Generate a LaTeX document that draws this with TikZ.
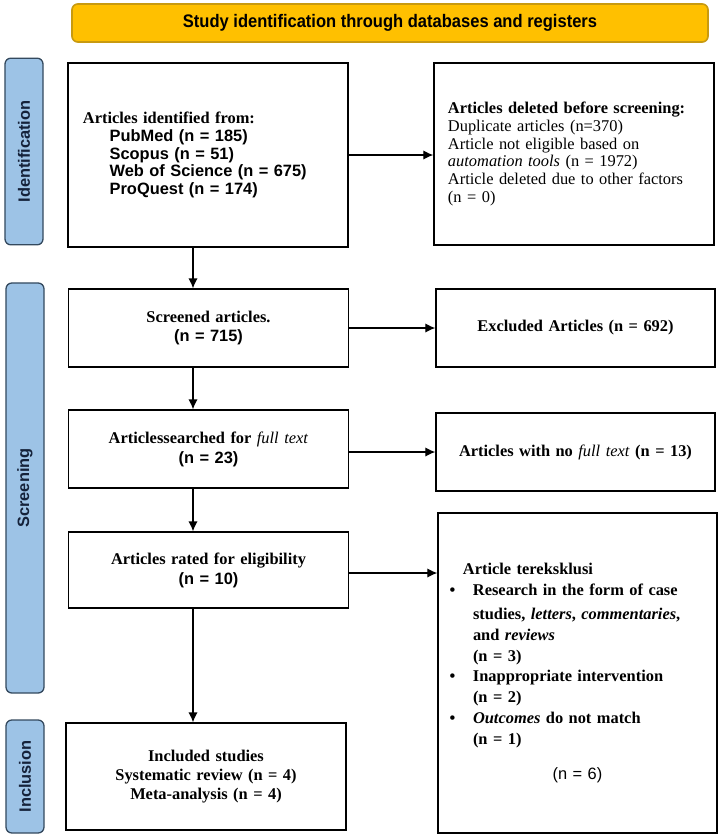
\documentclass[tikz,border=0pt]{standalone}
\usepackage{fontspec}
\setmainfont{Liberation Serif}
\setsansfont{Liberation Sans}
\newfontfamily\narrowsf[FakeStretch=0.91]{Liberation Sans}
\usetikzlibrary{arrows.meta}

\definecolor{bannerfill}{HTML}{FFC000}
\definecolor{bannerline}{HTML}{C89A10}
\definecolor{phasefill}{HTML}{9DC3E6}
\definecolor{phaseline}{HTML}{34495E}
\definecolor{phasetext}{HTML}{15223A}

\newcommand{\bulletpad}{\makebox[0.9cm][l]{\hspace{0.2cm}\textbullet}}
\newcommand{\hangpad}{\hspace*{0.9cm}}

\begin{document}
\begin{tikzpicture}[x=0.03cm,y=-0.03cm,
    box/.style={draw,line width=1.1pt,inner ysep=0pt,
        font=\fontsize{14}{15.1}\selectfont},
    midbox/.style={box,text width=7.8cm,inner xsep=0.3cm,align=center,
        minimum height=2.34cm,font=\fontsize{14}{17}\selectfont\bfseries},
    phase/.style={draw=phaseline,fill=phasefill,line width=1.1pt,rounded corners=5pt,
        rotate=90,minimum height=1.14cm,text=phasetext,
        font=\fontsize{14}{16}\selectfont\sffamily\bfseries},
    arr/.style={line width=1.1pt,-{Latex[length=0.3cm,width=0.28cm]}}]
    \useasboundingbox (0,0) rectangle (720,836);

    % banner and phases
    \node[draw=bannerline,fill=bannerfill,line width=1.4pt,rounded corners=5pt,
        minimum width=19.08cm,minimum height=1.14cm,
        font=\fontsize{15.5}{18}\selectfont\narrowsf\bfseries] (title) at (390,23)
        {Study identification through databases and registers};
    \node[phase,minimum width=5.6cm] (idphase) at (24,151.5) {Identification};
    \node[phase,minimum width=12.3cm] (scphase) at (25,488) {Screening};
    \node[phase,minimum width=3.39cm] (inphase) at (25,776.5) {Inclusion};

    % left column
    \node[box,text width=7.5cm,inner xsep=0.45cm,minimum height=5.52cm,align=left] (ident) at (208,155)
        {\textbf{Articles identified from:}\\
         \sffamily\bfseries\hspace*{0.8cm}PubMed (n = 185)\\
         \hspace*{0.8cm}Scopus (n = 51)\\
         \hspace*{0.8cm}Web of Science (n = 675)\\
         \hspace*{0.8cm}ProQuest (n = 174)};
    \node[midbox] (screened) at (208.5,328)
        {Screened articles.\\ \sffamily (n = 715)};
    \node[midbox] (searched) at (208.5,449)
        {Articlessearched for \textit{\mdseries full text}\\ \sffamily (n = 23)};
    \node[midbox,minimum height=2.28cm] (rated) at (208.5,570)
        {Articles rated for eligibility\\ \sffamily (n = 10)};
    \node[midbox,minimum height=3.21cm,font=\fontsize{14}{16.2}\selectfont\bfseries] (included) at (206,776.5)
        {Included studies\\ Systematic review (n = 4)\\ Meta-analysis (n = 4)};

    % right column
    \node[box,text width=7.56cm,inner xsep=0.42cm,minimum height=5.46cm,align=left] (deleted) at (574,154)
        {\textbf{Articles deleted before screening:}\\
         Duplicate articles (n=370)\\
         Article not eligible based on\\
         \textit{automation tools} (n = 1972)\\
         Article deleted due to other factors\\
         (n = 0)};
    \node[midbox,text width=7.77cm] (excluded) at (575.5,328) {Excluded Articles (n = 692)};
    \node[midbox,text width=7.77cm] (nofull) at (575.5,452)
        {Articles with no \textit{\mdseries full text} (n = 13)};
    \node[box,text width=8.07cm,inner xsep=0.15cm,minimum height=9.6cm] (terek) at (577.5,673)
        {\raggedright\fontsize{14}{17.9}\selectfont\bfseries
         \hspace*{0.6cm}Article tereksklusi\\
         \bulletpad Research in the form of case\\[2pt]
         \hangpad studies, \textit{letters}, \textit{commentaries},\\
         \hangpad and \textit{reviews}\\
         \hangpad (n = 3)\\
         \bulletpad Inappropriate intervention\\
         \hangpad (n = 2)\\
         \bulletpad \textit{Outcomes} do not match\\
         \hangpad (n = 1)\par\vspace{0.4cm}
         {\centering\sffamily\mdseries (n = 6)\par}\vspace*{0.5cm}};

    % connectors
    \coordinate (spine) at (193,0);
    \draw[arr] (ident.south -| spine) -- (screened.north -| spine);
    \draw[arr] (screened.south -| spine) -- (searched.north -| spine);
    \draw[arr] (searched.south -| spine) -- (rated.north -| spine);
    \draw[arr] (rated.south -| spine) -- (included.north -| spine);
    \draw[arr] (ident.east) -- (ident.east -| deleted.west);
    \draw[arr] (screened.east) -- (excluded.west);
    \draw[arr] (searched.east |- nofull.west) -- (nofull.west);
    \draw[arr] ([yshift=-0.09cm]rated.east) -- ([yshift=-0.09cm]rated.east -| terek.west);
\end{tikzpicture}
\end{document}
